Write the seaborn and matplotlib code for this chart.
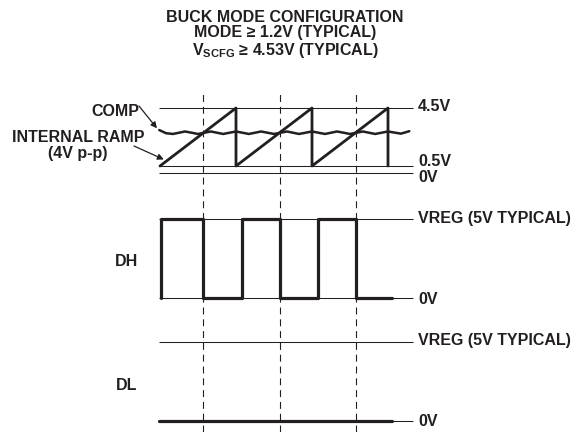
import matplotlib
matplotlib.use("Agg")
import pandas as pd
import seaborn as sns
import matplotlib.pyplot as plt

# time in switching periods, levels in volts
ramp_t = [0, 1, 1, 2, 2, 3, 3]
ramp_v = [0.5, 4.5, 0.5, 4.5, 0.5, 4.5, 0.5]

comp_t = [-0.01, 0.08, 0.17, 0.33, 0.5, 0.67, 0.83, 1.0, 1.17, 1.33, 1.5,
          1.67, 1.83, 2.0, 2.17, 2.33, 2.5, 2.67, 2.83, 3.0, 3.17, 3.28]
comp_v = [2.98, 2.76, 2.71, 2.88, 2.71, 2.88, 2.71, 2.88, 2.71, 2.88, 2.71,
          2.88, 2.71, 2.88, 2.71, 2.88, 2.71, 2.88, 2.71, 2.88, 2.73, 2.90]

dh_t = [0.01, 0.01, 0.57, 0.57, 1.08, 1.08, 1.58, 1.58, 2.08, 2.08, 2.58, 2.58, 3.05]
dh_v = [0, 5, 5, 0, 0, 5, 5, 0, 0, 5, 5, 0, 0]

dl_t = [-0.01, 3.05]
dl_v = [0, 0]

edge_t = [0.57, 1.58, 2.58]  # COMP crossings (dashed markers)

ref_top = [4.5, 0.5, 0]
ref_top_labels = ["4.5V", "0.5V", "0V"]
ref_drv = [5, 0]
ref_drv_labels = ["VREG (5V TYPICAL)", "0V"]

title_lines = ["BUCK MODE CONFIGURATION",
               "MODE \u2265 1.2V (TYPICAL)",
               "V$_{\\mathbf{SCFG}}$ \u2265 4.53V (TYPICAL)"]

# ---- layout ----
W, H = 585, 432
T0_PX, PERIOD_PX = 160, 76
XLIM = (-T0_PX / PERIOD_PX, (W - T0_PX) / PERIOD_PX)
REF_T = (-0.013, 3.33)
INK = "#231f20"
FS = 11.5

sns.set_theme(style="white")
plt.rcParams["font.family"] = ["Liberation Sans", "DejaVu Sans"]
plt.rcParams["font.weight"] = "bold"
plt.rcParams["mathtext.fontset"] = "custom"
plt.rcParams["mathtext.rm"] = "Liberation Sans:bold"
plt.rcParams["mathtext.bf"] = "Liberation Sans:bold"
plt.rcParams["lines.scale_dashes"] = False

fig = plt.figure(figsize=(W / 100, H / 100), dpi=100)


def band_axes(v_hi, px_hi, v_lo, px_lo, pad=20):
    scale = (px_lo - px_hi) / (v_hi - v_lo)
    top, bot = px_hi - pad, px_lo + pad
    ax = fig.add_axes([0, 1 - bot / H, 1, (bot - top) / H])
    ax.set_xlim(XLIM)
    ax.set_ylim(v_lo - pad / scale, v_hi + pad / scale)
    ax.axis("off")
    return ax


def right_labels(ax, levels, labels, dys):
    for lv, lab, dy in zip(levels, labels, dys):
        ax.annotate(lab, xy=(REF_T[1], lv), xytext=(5, dy), textcoords="offset pixels",
                    ha="left", va="center", fontsize=FS, fontweight="bold", color=INK)


# dashed timing markers across the whole figure
ax_d = fig.add_axes([0, 0, 1, 1])
ax_d.set_xlim(XLIM)
ax_d.axis("off")
for t in edge_t:
    ax_d.axvline(t, ymin=0, ymax=1 - 90 / H, color=INK, lw=0.8, dashes=(5, 3.5))

# ramp / comp
ax1 = band_axes(4.5, 108, 0.5, 166)
ax1.hlines(ref_top, *REF_T, color=INK, lw=0.75)
sns.lineplot(x=comp_t, y=comp_v, sort=False, estimator=None, color=INK, lw=1.8, ax=ax1)
sns.lineplot(x=ramp_t, y=ramp_v, sort=False, estimator=None, color=INK, lw=2.0, ax=ax1)
right_labels(ax1, ref_top, ref_top_labels, [1.5, 4.5, -4])

# DH
ax2 = band_axes(5, 219, 0, 298)
ax2.hlines(ref_drv, *REF_T, color=INK, lw=0.75)
sns.lineplot(x=dh_t, y=dh_v, sort=False, estimator=None, color=INK, lw=2.3, ax=ax2)
right_labels(ax2, ref_drv, ref_drv_labels, [1, -1])

# DL
ax3 = band_axes(5, 342, 0, 421)
ax3.hlines(ref_drv, *REF_T, color=INK, lw=0.75)
sns.lineplot(x=dl_t, y=dl_v, sort=False, estimator=None, color=INK, lw=2.3, ax=ax3)
right_labels(ax3, ref_drv, ref_drv_labels, [1, -1])

for ax in (ax1, ax2, ax3):
    ax.set_xlim(XLIM)
    ax.axis("off")

# title
for txt, base in zip(title_lines, [22.5, 37.5, 55]):
    fig.text(285 / W, 1 - base / H, txt, ha="center", va="baseline",
             fontsize=FS, fontweight="bold", color=INK)

# left labels and pointers
txt_kw = dict(fontsize=FS, fontweight="bold", color=INK)
fig.text(139 / W, 1 - 111 / H, "COMP", ha="right", va="center", **txt_kw)
fig.text(78 / W, 1 - 137 / H, "INTERNAL RAMP", ha="center", va="center", **txt_kw)
fig.text(78 / W, 1 - 153 / H, "(4V p-p)", ha="center", va="center", **txt_kw)
fig.text(127 / W, 1 - 262 / H, "DH", ha="center", va="center", **txt_kw)
fig.text(127 / W, 1 - 385 / H, "DL", ha="center", va="center", **txt_kw)

arrow = dict(arrowstyle="-|>", color=INK, lw=0.9, mutation_scale=9, shrinkA=0, shrinkB=0)
ax1.annotate("", xy=(-0.04, 3.1), xytext=(139, H - 106), textcoords="figure pixels",
             arrowprops=arrow)
ax1.annotate("", xy=(0.05, 0.95), xytext=(134, H - 146), textcoords="figure pixels",
             arrowprops=arrow)

fig.savefig("out.png", dpi=100)
